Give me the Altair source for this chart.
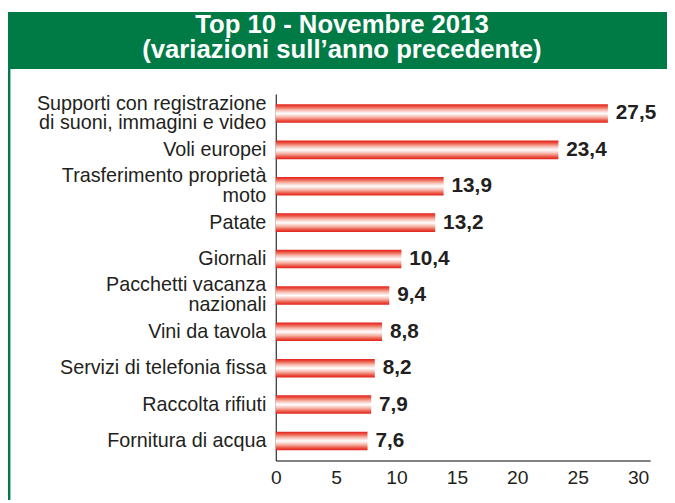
import altair as alt
import pandas as pd

categories = [
    "Supporti con registrazione|di suoni, immagini e video",
    "Voli europei",
    "Trasferimento proprietà|moto",
    "Patate",
    "Giornali",
    "Pacchetti vacanza|nazionali",
    "Vini da tavola",
    "Servizi di telefonia fissa",
    "Raccolta rifiuti",
    "Fornitura di acqua",
]
values = [27.5, 23.4, 13.9, 13.2, 10.4, 9.4, 8.8, 8.2, 7.9, 7.6]
x_ticks = [0, 5, 10, 15, 20, 25, 30]
title_lines = ["Top 10 - Novembre 2013", "(variazioni sull\u2019anno precedente)"]

GREEN = "#007b46"
TEXT = "#231f20"
FONT = "Liberation Sans"

df = pd.DataFrame({"cat": categories, "v": values})

W, H = 379, 371
PAD_L, PAD_T = 271, 84
TOTAL_W, TOTAL_H = 667, 495
LH = 20

gradient = {
    "gradient": "linear",
    "x1": 0, "y1": 0, "x2": 0, "y2": 1,
    "stops": [
        {"offset": 0.0, "color": "#e3211b"},
        {"offset": 0.12, "color": "#ea5040"},
        {"offset": 0.3, "color": "#f6b3a6"},
        {"offset": 0.5, "color": "#ffffff"},
        {"offset": 0.7, "color": "#f6b3a6"},
        {"offset": 0.88, "color": "#ea5040"},
        {"offset": 1.0, "color": "#e3211b"},
    ],
}

base = alt.Chart(df)

y_enc = alt.Y(
    "cat:N",
    sort=categories,
    scale=alt.Scale(paddingInner=0.489, paddingOuter=0.282),
    axis=alt.Axis(
        title=None,
        ticks=False,
        domain=True,
        domainColor="#000000",
        domainWidth=1,
        labelExpr="split(datum.label, '|')",
        labelOffset={"expr": f"indexof(datum.label, '|') >= 0 ? {-LH / 2} : 0"},
        labelFont=FONT,
        labelFontSize=20,
        labelColor=TEXT,
        labelPadding=10,
        labelLineHeight=LH,
        labelLimit=300,
    ),
)
x_enc = alt.X(
    "v:Q",
    scale=alt.Scale(domain=[0, 31], nice=False),
    axis=alt.Axis(
        title=None,
        values=x_ticks,
        ticks=False,
        grid=False,
        domainColor="#000000",
        domainWidth=1,
        labelFont=FONT,
        labelFontSize=19.5,
        labelColor=TEXT,
        labelPadding=8,
        labelFlush=False,
    ),
)

bars = base.mark_bar(fill=gradient, stroke=None).encode(x=x_enc, y=y_enc)

labels = base.transform_calculate(
    lab="replace(format(datum.v, '.1f'), '.', ',')"
).mark_text(
    align="left", baseline="middle", dx=8, font=FONT, fontSize=21,
    fontWeight="bold", color=TEXT,
).encode(x="v:Q", y=alt.Y("cat:N", sort=categories), text="lab:N")

deco = alt.Chart(pd.DataFrame({"d": [0]}))
banner = deco.mark_rect(color=GREEN).encode(
    x=alt.value(-PAD_L), x2=alt.value(TOTAL_W - PAD_L),
    y=alt.value(1 - PAD_T), y2=alt.value(58.7 - PAD_T),
)
border = deco.mark_rule(color=GREEN, strokeWidth=2.5).encode(
    x=alt.value(-PAD_L + 1.2), y=alt.value(1 - PAD_T), y2=alt.value(TOTAL_H - PAD_T),
)
title = deco.mark_text(
    text=title_lines, align="center", baseline="middle", font=FONT,
    fontSize=26, fontWeight="bold", color="white", lineHeight=26,
).encode(x=alt.value(338 - PAD_L), y=alt.value(14 - PAD_T))

chart = alt.layer(banner, border, title, bars, labels).properties(
    width=W, height=H,
    autosize=alt.AutoSizeParams(type="none"),
    padding={"left": PAD_L, "top": PAD_T, "right": TOTAL_W - PAD_L - W, "bottom": TOTAL_H - PAD_T - H},
    background="white",
).configure_view(stroke=None)

chart.save("out.html", embed_options={"renderer": "svg", "actions": False})
